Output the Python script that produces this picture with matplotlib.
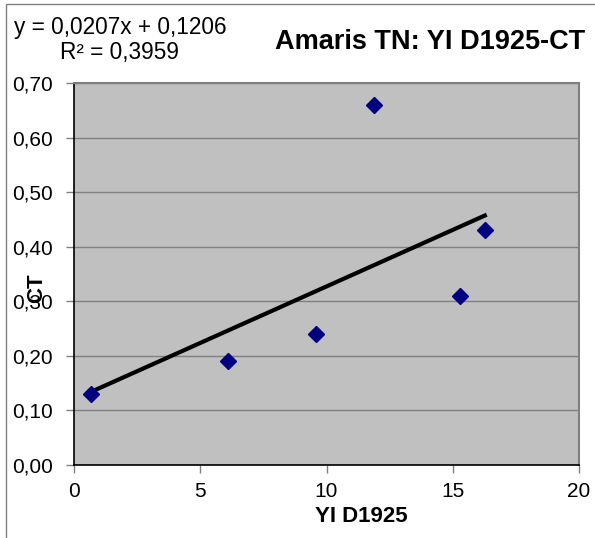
import numpy as np
import matplotlib
matplotlib.use("Agg")
import matplotlib.pyplot as plt
from matplotlib.patches import Rectangle

# data
yi_d1925 = [0.67, 6.11, 9.6, 11.89, 15.3, 16.27]
ct = [0.13, 0.19, 0.24, 0.66, 0.31, 0.43]
x_ticks = [0, 5, 10, 15, 20]
y_ticks = [0.0, 0.1, 0.2, 0.3, 0.4, 0.5, 0.6, 0.7]
equation_text = "y = 0,0207x + 0,1206\nR² = 0,3959"
title_text = "Amaris TN: YI D1925-CT"

plt.rcParams["font.family"] = ["Liberation Sans", "DejaVu Sans"]

W, H = 595, 538
fig = plt.figure(figsize=(W / 100, H / 100), dpi=100)
ax = fig.add_axes([74 / W, 1 - 465 / H, (579 - 74) / W, (465 - 83) / H])

# outer chart border (only top/left visible in the crop)
fig.patches.append(Rectangle((6 / W, -0.1), 1.2, 1 - 4 / H + 0.1, transform=fig.transFigure,
                             fill=False, edgecolor="#808080", linewidth=1))

ax.set_facecolor("#C0C0C0")
ax.set_xlim(0, 20)
ax.set_ylim(0, 0.7)
ax.set_xticks(x_ticks)
ax.set_yticks(y_ticks)
ax.set_xticklabels([str(v) for v in x_ticks])
ax.set_yticklabels([f"{v:.2f}".replace(".", ",") for v in y_ticks])
ax.tick_params(labelsize=15, length=6, width=1, direction="out", color="#808080")
ax.tick_params(axis="x", pad=6)
ax.tick_params(axis="y", pad=9)
ax.yaxis.grid(True, color="#808080", linewidth=1)
ax.set_axisbelow(True)

for side in ["left", "bottom"]:
    ax.spines[side].set_color("black")
    ax.spines[side].set_linewidth(1.2)
for side in ["top", "right"]:
    ax.spines[side].set_color("#808080")
    ax.spines[side].set_linewidth(1.5)

# linear trend line
slope, intercept = np.polyfit(yi_d1925, ct, 1)
xs = np.array([min(yi_d1925), max(yi_d1925)])
ax.plot(xs, slope * xs + intercept, color="black", linewidth=3, zorder=3)

ax.plot(yi_d1925, ct, linestyle="none", marker="D", markersize=8.5,
        color="#000080", markeredgecolor="#000080", zorder=4)

fig.text(120 / W, 1 - 40 / H, equation_text, ha="center", va="center",
         fontsize=16.3, linespacing=1.1)
fig.text(585 / W, 1 - 42 / H, title_text, ha="right", va="center",
         fontsize=19.5, fontweight="bold")
fig.text(361 / W, 1 - 516 / H, "YI D1925", ha="center", va="center",
         fontsize=16, fontweight="bold")
fig.text(37 / W, 1 - 288 / H, "CT", ha="center", va="center",
         fontsize=16, fontweight="bold", rotation=90)

fig.savefig("out.png", dpi=100)
